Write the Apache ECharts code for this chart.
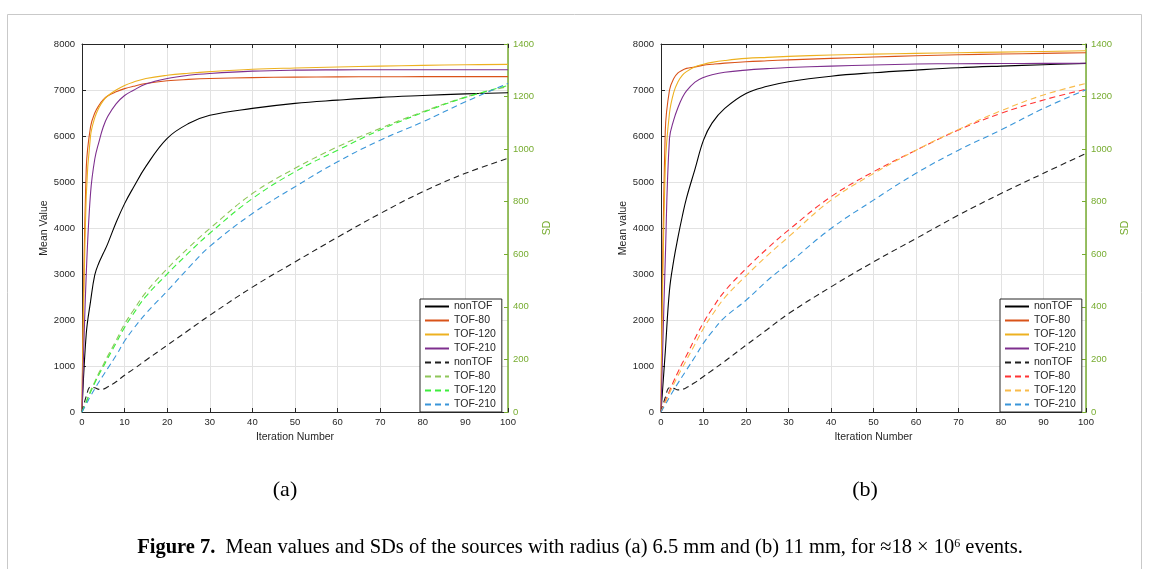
<!DOCTYPE html>
<html>
<head>
<meta charset="utf-8">
<script src="https://cdn.jsdelivr.net/npm/echarts@6/dist/echarts.min.js"></script>
<style>
html,body{margin:0;padding:0;background:#fff;}
#c{width:1150px;height:569px;}
</style>
</head>
<body>
<div id="c"></div>
<script>
// ---- data ----
const iterations = [0,1,2,3,4,5,6,8,10,12,15,20,25,30,40,50,60,70,80,90,100];

// panel (a): radius 6.5 mm — mean values (left axis)
const aMeanNonTOF = [0,1700,2400,2980,3250,3450,3650,4120,4530,4870,5340,5950,6270,6450,6600,6710,6780,6840,6880,6915,6940];
const aMeanTOF80  = [0,5300,6200,6500,6670,6790,6870,6960,7030,7080,7140,7200,7230,7250,7270,7280,7285,7288,7290,7290,7290];
const aMeanTOF120 = [0,4700,6000,6400,6620,6770,6870,7000,7100,7170,7250,7320,7365,7400,7450,7478,7500,7520,7535,7548,7556];
const aMeanTOF210 = [0,3000,4750,5500,5880,6200,6420,6700,6880,6990,7130,7250,7320,7360,7410,7432,7438,7440,7440,7440,7440];
// panel (a): SD (right axis)
const aSdNonTOF = [0,60,95,92,86,87,95,115,140,162,197,254,311,368,475,571,665,755,838,908,965];
const aSdTOF80  = [0,40,80,115,150,180,212,272,335,385,455,545,625,698,831,927,1009,1079,1142,1198,1238];
const aSdTOF120 = [0,38,75,110,143,172,203,262,322,372,440,525,605,680,812,914,996,1073,1139,1197,1242];
const aSdTOF210 = [0,30,60,88,115,140,165,215,270,315,375,460,548,630,755,857,952,1034,1104,1180,1250];

// panel (b): radius 11 mm — mean values (left axis)
const bMeanNonTOF = [0,1300,2650,3300,3800,4250,4650,5280,5910,6280,6600,6925,7080,7180,7300,7375,7433,7484,7520,7550,7578];
const bMeanTOF80  = [0,6100,7000,7250,7370,7430,7470,7500,7540,7560,7585,7614,7635,7655,7687,7717,7745,7765,7781,7796,7810];
const bMeanTOF120 = [0,5300,6500,6950,7180,7320,7400,7505,7560,7600,7640,7687,7710,7730,7760,7780,7796,7810,7824,7838,7853];
const bMeanTOF210 = [0,3300,5950,6350,6620,6830,6980,7170,7273,7330,7385,7433,7465,7490,7520,7545,7564,7572,7576,7578,7580];
// panel (b): SD (right axis)
const bSdNonTOF = [0,55,92,90,84,86,93,112,135,158,193,254,314,374,476,571,660,749,831,908,984];
const bSdTOF80  = [0,40,80,118,152,185,215,280,340,392,460,545,622,692,819,914,996,1073,1136,1187,1228];
const bSdTOF120 = [0,36,72,106,138,168,198,258,318,368,435,518,595,666,806,907,996,1075,1146,1206,1250];
const bSdTOF210 = [0,28,56,84,110,135,160,210,262,305,360,425,500,565,698,806,908,996,1073,1155,1226];

const legendLabels = ['nonTOF','TOF-80','TOF-120','TOF-210','nonTOF','TOF-80','TOF-120','TOF-210'];
const xMax = 100, xStep = 10;
const meanMax = 8000, meanStep = 1000;
const sdMax = 1400, sdStep = 200;

// ---- styling ----
const SANS = 'Liberation Sans, Arial, Helvetica, sans-serif';
const SERIF = 'Liberation Serif, Times New Roman, DejaVu Serif, serif';
const INK = '#262626';
const GREEN = '#77AC30';
const GRIDC = '#e2e2e2';

function pairs(arr){ return iterations.map((x,i)=>[x, arr[i]]); }

function ser(panel, idx, arr, color, dashed){
  const p = panel === 'a' ? 0 : 1;
  return {
    type:'line',
    name: panel + ':' + idx + ':' + legendLabels[idx],
    xAxisIndex: p*2,
    yAxisIndex: p*2 + (dashed ? 1 : 0),
    data: pairs(arr),
    symbol:'none',
    smooth:0.4,
    lineStyle:{color:color, width:1.1, type: dashed ? [6,4] : 'solid'},
    itemStyle:{color:color},
    z: dashed ? 3 : 2,
    silent:true
  };
}

const colors = {
  black:'#000000', red:'#D95319', yellow:'#EDB120', purple:'#7E2F8E',
  aT80d:'#8fc65a', aT120d:'#3ded3d', blue:'#3a96d9',
  bT80d:'#ff3434', bT120d:'#f9bb4a', blackd:'#1e1e1e'
};

const series = [
  ser('a',0,aMeanNonTOF,colors.black,false),
  ser('a',1,aMeanTOF80,colors.red,false),
  ser('a',2,aMeanTOF120,colors.yellow,false),
  ser('a',3,aMeanTOF210,colors.purple,false),
  ser('a',4,aSdNonTOF,colors.blackd,true),
  ser('a',5,aSdTOF80,colors.aT80d,true),
  ser('a',6,aSdTOF120,colors.aT120d,true),
  ser('a',7,aSdTOF210,colors.blue,true),
  ser('b',0,bMeanNonTOF,colors.black,false),
  ser('b',1,bMeanTOF80,colors.red,false),
  ser('b',2,bMeanTOF120,colors.yellow,false),
  ser('b',3,bMeanTOF210,colors.purple,false),
  ser('b',4,bSdNonTOF,colors.blackd,true),
  ser('b',5,bSdTOF80,colors.bT80d,true),
  ser('b',6,bSdTOF120,colors.bT120d,true),
  ser('b',7,bSdTOF210,colors.blue,true)
];

const plain = v => String(v);

function xBottom(g){
  return {
    gridIndex:g, type:'value', min:0, max:xMax, interval:xStep, position:'bottom',
    axisLine:{show:true,onZero:false,lineStyle:{color:INK,width:1}},
    axisTick:{show:true,inside:true,length:4,lineStyle:{color:INK}},
    axisLabel:{color:INK,fontSize:9.5,fontFamily:SANS,margin:5,formatter:plain},
    splitLine:{show:true,lineStyle:{color:GRIDC,width:1}},
    name:'Iteration Number', nameLocation:'middle', nameGap:17,
    nameTextStyle:{color:INK,fontSize:10.5,fontFamily:SANS}
  };
}
function xTop(g){
  return {
    gridIndex:g, type:'value', min:0, max:xMax, interval:xStep, position:'top',
    axisLine:{show:true,onZero:false,lineStyle:{color:INK,width:1}},
    axisTick:{show:true,inside:true,length:4,lineStyle:{color:INK}},
    axisLabel:{show:false}, splitLine:{show:false}
  };
}
function yLeft(g,name){
  return {
    gridIndex:g, type:'value', min:0, max:meanMax, interval:meanStep, position:'left',
    axisLine:{show:true,onZero:false,lineStyle:{color:INK,width:1}},
    axisTick:{show:true,inside:true,length:4,lineStyle:{color:INK}},
    axisLabel:{color:INK,fontSize:9.5,fontFamily:SANS,margin:7,formatter:plain},
    splitLine:{show:true,lineStyle:{color:GRIDC,width:1}},
    name:name, nameLocation:'middle', nameGap:31,
    nameTextStyle:{color:INK,fontSize:10.5,fontFamily:SANS}
  };
}
function yRight(g){
  return {
    gridIndex:g, type:'value', min:0, max:sdMax, interval:sdStep, position:'right',
    axisLine:{show:true,onZero:false,lineStyle:{color:GREEN,width:1.5}},
    axisTick:{show:true,inside:true,length:4,lineStyle:{color:GREEN}},
    axisLabel:{color:GREEN,fontSize:9.5,fontFamily:SANS,margin:5,formatter:plain},
    splitLine:{show:false},
    name:'SD', nameLocation:'middle', nameGap:34,
    nameTextStyle:{color:GREEN,fontSize:10.5,fontFamily:SANS}
  };
}

function legendFor(panel, left){
  return {
    show:true, orient:'vertical', left:left, top:299,
    data: legendLabels.map((l,i)=>panel+':'+i+':'+l),
    formatter: n => n.split(':')[2],
    itemWidth:24, itemHeight:10, itemGap:3,
    padding:[2,6,2,4],
    backgroundColor:'#ffffff', borderColor:INK, borderWidth:1,
    textStyle:{color:INK,fontSize:10.5,fontFamily:SANS},
    itemStyle:{color:'rgba(0,0,0,0)', borderColor:'rgba(0,0,0,0)', borderWidth:0, opacity:0},
    selectedMode:false
  };
}

const chart = echarts.init(document.getElementById('c'), null, {renderer:'canvas'});
chart.setOption({
  animation:false,
  backgroundColor:'#ffffff',
  grid:[
    {left:82, top:44, width:426, height:368, containLabel:false},
    {left:661, top:44, width:425, height:368, containLabel:false}
  ],
  xAxis:[xBottom(0), xTop(0), xBottom(1), xTop(1)],
  yAxis:[yLeft(0,'Mean Value'), yRight(0), yLeft(1,'Mean value'), yRight(1)],
  legend:[legendFor('a',420), legendFor('b',1000)],
  series: series,
  graphic:[
    {type:'rect', silent:true, z:-10,
      shape:{x:7.5,y:14.5,width:1134,height:620},
      style:{fill:'none',stroke:'#c9c9c9',lineWidth:1}},
    {type:'text', silent:true, x:285, y:490,
      style:{text:'(a)', font:'22px '+SERIF, fill:'#000', align:'center', verticalAlign:'middle'}},
    {type:'text', silent:true, x:865, y:490,
      style:{text:'(b)', font:'22px '+SERIF, fill:'#000', align:'center', verticalAlign:'middle'}},
    {type:'text', silent:true, x:580, y:548,
      style:{
        text:'{b|Figure 7.}  Mean values and SDs of the sources with radius (a) 6.5 mm and (b) 11 mm, for \u224818 \u00d7 10{s|6} events.',
        font:'20.5px '+SERIF, fill:'#000', align:'center', verticalAlign:'middle',
        rich:{
          b:{fontWeight:'bold', fontSize:20.5, fontFamily:SERIF, fill:'#000'},
          s:{fontSize:12, fontFamily:SERIF, verticalAlign:'top', fill:'#000'}
        }
      }}
  ]
});
</script>
</body>
</html>
